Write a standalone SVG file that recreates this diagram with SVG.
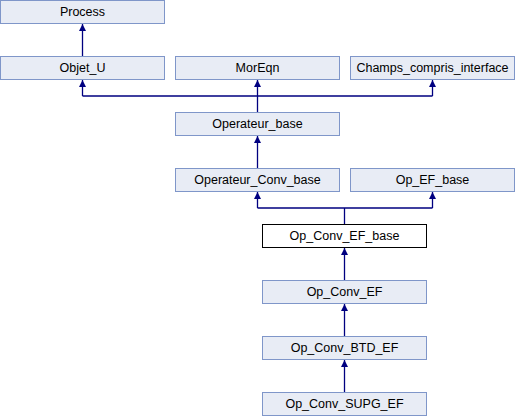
<svg xmlns="http://www.w3.org/2000/svg" width="515" height="416" viewBox="0 0 515 416">
<style>
.n rect{fill:#e8ecf5;stroke:#7f96c9;stroke-width:1}
.n.cur rect{fill:#ffffff;stroke:#000000}
.n text{font-family:"Liberation Sans",Arial,sans-serif;font-size:12.5px;fill:#000;text-anchor:middle}
.e path{fill:none;stroke:#000080;stroke-width:1.3}
.e polygon{fill:#000080;stroke:none}
</style>
<rect width="515" height="416" fill="#ffffff"/>
<g class="e" id="edges">
<path d="M82.5 56V24"/>
<polygon points="82.5,24 79,31 86,31"/>
<path d="M257.5 112V80M82.5 96H432.5M82.5 96V80M432.5 96V80"/>
<polygon points="82.5,80 79,87 86,87"/>
<polygon points="257.5,80 254,87 261,87"/>
<polygon points="432.5,80 429,87 436,87"/>
<path d="M257.5 168V136"/>
<polygon points="257.5,136 254,143 261,143"/>
<path d="M344.5 224V208M257.5 208H432.5M257.5 208V192M432.5 208V192"/>
<polygon points="257.5,192 254,199 261,199"/>
<polygon points="432.5,192 429,199 436,199"/>
<path d="M344.5 280V248"/>
<polygon points="344.5,248 341,255 348,255"/>
<path d="M344.5 336V304"/>
<polygon points="344.5,304 341,311 348,311"/>
<path d="M344.5 392V360"/>
<polygon points="344.5,360 341,367 348,367"/>
</g>
<g class="n" id="Process"><rect x="0.5" y="0.5" width="164" height="23"/><text x="82.5" y="16">Process</text></g>
<g class="n" id="Objet_U"><rect x="0.5" y="56.5" width="164" height="23"/><text x="82.5" y="72">Objet_U</text></g>
<g class="n" id="MorEqn"><rect x="175.5" y="56.5" width="164" height="23"/><text x="257.5" y="72">MorEqn</text></g>
<g class="n" id="Champs_compris_interface"><rect x="350.5" y="56.5" width="164" height="23"/><text x="432.5" y="72">Champs_compris_interface</text></g>
<g class="n" id="Operateur_base"><rect x="175.5" y="112.5" width="164" height="23"/><text x="257.5" y="128">Operateur_base</text></g>
<g class="n" id="Operateur_Conv_base"><rect x="175.5" y="168.5" width="164" height="23"/><text x="257.5" y="184">Operateur_Conv_base</text></g>
<g class="n" id="Op_EF_base"><rect x="350.5" y="168.5" width="164" height="23"/><text x="432.5" y="184">Op_EF_base</text></g>
<g class="n cur" id="Op_Conv_EF_base"><rect x="262.5" y="224.5" width="164" height="23"/><text x="344.5" y="240">Op_Conv_EF_base</text></g>
<g class="n" id="Op_Conv_EF"><rect x="262.5" y="280.5" width="164" height="23"/><text x="344.5" y="296">Op_Conv_EF</text></g>
<g class="n" id="Op_Conv_BTD_EF"><rect x="262.5" y="336.5" width="164" height="23"/><text x="344.5" y="352">Op_Conv_BTD_EF</text></g>
<g class="n" id="Op_Conv_SUPG_EF"><rect x="262.5" y="392.5" width="164" height="23"/><text x="344.5" y="408">Op_Conv_SUPG_EF</text></g>
</svg>
